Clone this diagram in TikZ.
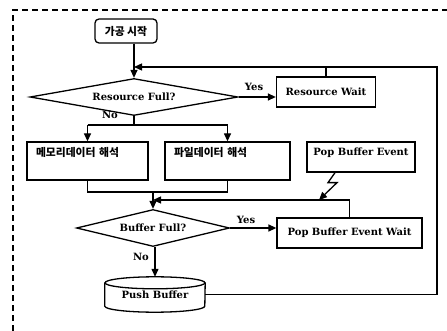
\documentclass[tikz,border=0pt]{standalone}
\usepackage{fontspec}
\setmainfont{DejaVu Serif}
\newfontfamily\krfont{Noto Sans CJK KR}
\usetikzlibrary{shapes.geometric,arrows.meta}
\tikzset{
  lat/.style={font=\fontsize{10}{11}\selectfont\bfseries},
  kor/.style={font=\fontsize{10.8}{11}\krfont\bfseries},
  box/.style={draw, line width=1.3pt, rectangle, inner sep=0pt},
  dia/.style={draw, line width=1.3pt, diamond, aspect=5.6, inner sep=0pt, lat},
  ln/.style={line width=1.3pt},
  arr/.style={line width=1.3pt, -{Triangle[length=8pt,width=7pt]}},
  lbl/.style={lat, inner sep=0pt}
}
\begin{document}
\begin{tikzpicture}[x=1pt,y=-1pt]
\useasboundingbox (0,0) rectangle (447,331);
% dashed frame
\draw[line width=1.2pt, dash pattern=on 6pt off 4pt] (13,331) -- (13,10) -- (447,10);

% nodes
\node[box, rounded corners=4pt, minimum width=62pt, minimum height=24pt, kor] (start) at (126,31) {가공 시작};
\node[dia, minimum width=208pt, minimum height=37pt] (d1) at (134,97) {Resource Full?};
\node[box, minimum width=99pt, minimum height=30pt, lat] (rw) at (326,92) {Resource Wait};
\node[box, kor, text width=103pt, align=left, inner xsep=9pt, inner ysep=0pt, text height=14.5pt, text depth=23.5pt] (m1) at (87.5,161) {메모리데이터 해석};
\node[box, kor, text width=107pt, align=left, inner xsep=9pt, inner ysep=0pt, text height=14.5pt, text depth=23.5pt] (m2) at (227.5,161) {파일데이터 해석};
\node[box, lat, minimum width=108pt, inner ysep=0pt, text height=14pt, text depth=16pt] (pbe) at (361,157) {Pop Buffer Event};
\node[dia, minimum width=153pt, minimum height=37pt] (d2) at (153,228) {Buffer Full?};
\node[box, minimum width=145pt, minimum height=30pt, lat] (pbw) at (349.5,233) {Pop Buffer Event Wait};
\node[inner sep=0pt, minimum width=100pt, minimum height=35pt, lat, text depth=-1pt] (pb) at (155,294.5) {Push Buffer};
% cylinder outline for Push Buffer
\draw[ln] ([yshift=-6pt]pb.north west) -- ([yshift=6pt]pb.south west)
  arc[start angle=180, end angle=360, x radius=50pt, y radius=6pt]
  -- ([yshift=-6pt]pb.north east);
\draw[ln] ([yshift=-6pt]pb.north) ellipse[x radius=50pt, y radius=6pt];

% labels
\node[lbl] (yes1) at (254,87) {Yes};
\node[lbl] (no1) at (110,115) {No};
\node[lbl] (yes2) at (246,220) {Yes};
\node[lbl] (no2) at (141,257) {No};

% coordinates
\coordinate (lp) at (437,67);
\coordinate (sp) at (0,125);
\coordinate (jn) at (0,192);
\coordinate (mg) at (0,200);
\coordinate (lz) at (319,200);

% connectors
\draw[arr] (d1.north |- start.south) -- (d1.north);
\draw[arr] (d1.east) -- (d1.east -| rw.west);
\draw[arr] (pb.east) -| (lp) -- (lp -| d1.north);
\draw[ln] (rw.north) -- (rw.north |- lp);
\draw[ln] (d1.south) -- (d1.south |- sp);
\draw[ln] (m1.north |- sp) -- (m2.north |- sp);
\draw[arr] (m1.north |- sp) -- (m1.north);
\draw[arr] (m2.north |- sp) -- (m2.north);
\draw[ln] (m1.south) -- (m1.south |- jn) -- (m2.south |- jn) -- (m2.south);
\draw[arr] (d2.north |- jn) -- (d2.north);
\draw[arr] (d2.east) -- (d2.east -| pbw.west);
\draw[arr] (pbw.north) -- (pbw.north |- mg) -- (d2.north |- mg);
\draw[arr] ([xshift=-26pt]pbe.south) -- ++(-7,10) -- ++(9,0) -- (lz);
\draw[arr] (pb.north |- d2.south) -- (pb.north);
\end{tikzpicture}
\end{document}
